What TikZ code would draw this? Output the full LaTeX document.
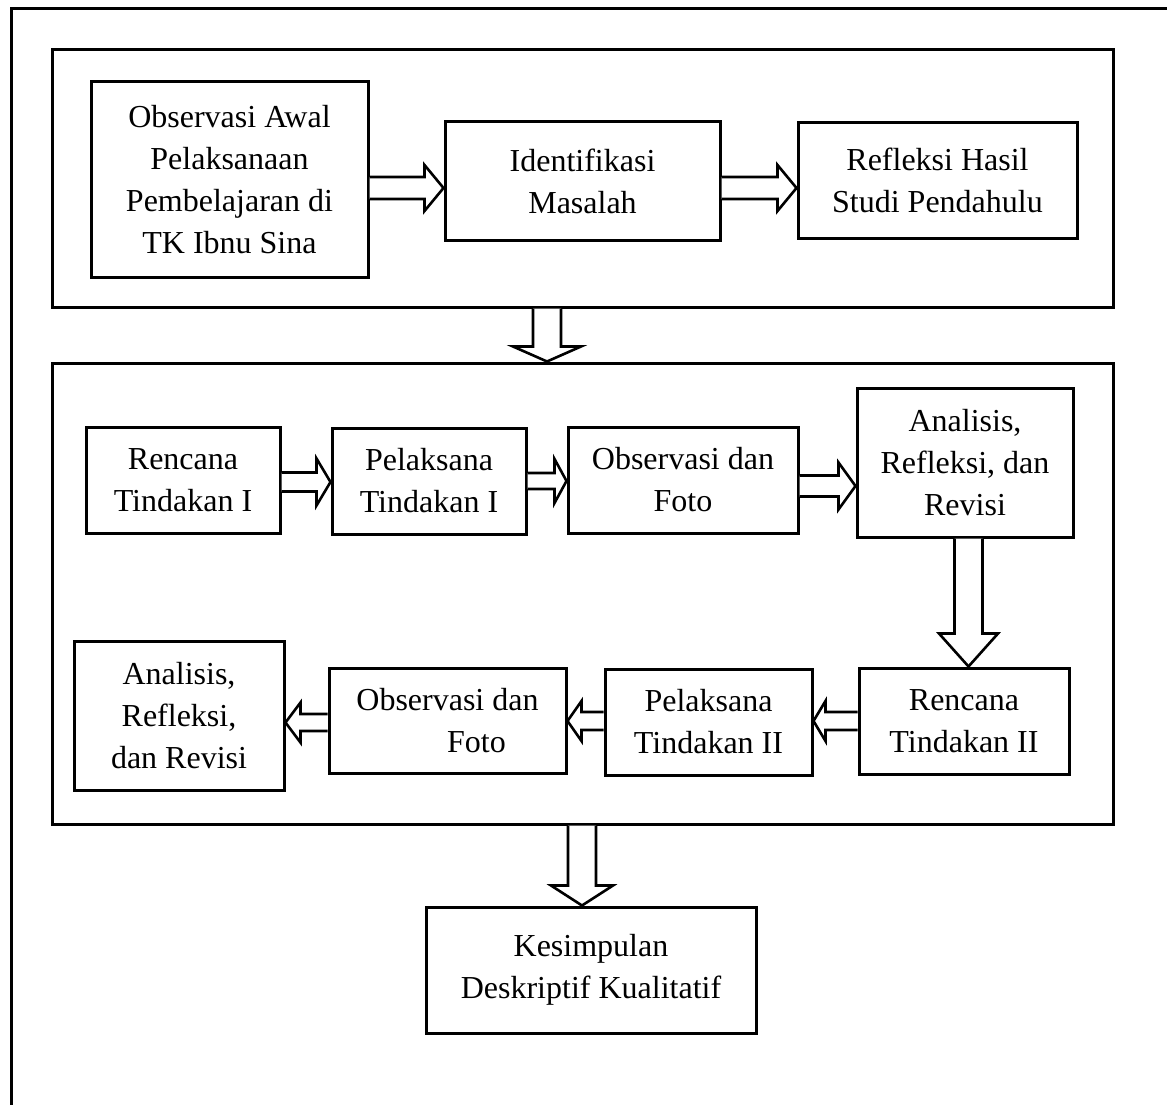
\documentclass[tikz,border=0pt]{standalone}
\usepackage{fontspec}
\setmainfont{Liberation Serif}
\usetikzlibrary{calc}
\tikzset{
  box/.style={draw, line width=3pt, align=center, inner sep=0pt,
    font=\fontsize{32}{42}\selectfont},
  frame/.style={draw, line width=3pt, inner sep=0pt},
  barrow/.style={draw, line width=2.6pt, line join=miter, fill=white}
}
% right-pointing block arrow: from, to, y, shaft half, head half, head length
\newcommand\arrR[6]{\draw[barrow] ($(#1.east|-0,#3)+(0,-#4)$) -- ($(#2.west|-0,#3)+(-#6,-#4)$) -- ($(#2.west|-0,#3)+(-#6,-#5)$) -- (#2.west|-0,#3) -- ($(#2.west|-0,#3)+(-#6,#5)$) -- ($(#2.west|-0,#3)+(-#6,#4)$) -- ($(#1.east|-0,#3)+(0,#4)$);}
\newcommand\arrL[6]{\draw[barrow] ($(#1.west|-0,#3)+(0,-#4)$) -- ($(#2.east|-0,#3)+(#6,-#4)$) -- ($(#2.east|-0,#3)+(#6,-#5)$) -- (#2.east|-0,#3) -- ($(#2.east|-0,#3)+(#6,#5)$) -- ($(#2.east|-0,#3)+(#6,#4)$) -- ($(#1.west|-0,#3)+(0,#4)$);}
\newcommand\arrD[6]{\draw[barrow] ($(#1.south-|#3,0)+(-#4,0)$) -- ($(#2.north-|#3,0)+(-#4,-#6)$) -- ($(#2.north-|#3,0)+(-#5,-#6)$) -- (#2.north-|#3,0) -- ($(#2.north-|#3,0)+(#5,-#6)$) -- ($(#2.north-|#3,0)+(#4,-#6)$) -- ($(#1.south-|#3,0)+(#4,0)$);}
\begin{document}
\begin{tikzpicture}[x=1pt,y=-1pt]
\useasboundingbox (0,0) rectangle (1167,1105);
% outer frame (open at right and bottom)
\draw[line width=3pt, line join=miter] (11,1105) -- (11,9) -- (1167,9);
% containers
\node[frame, minimum width=1061pt, minimum height=257pt] (top) at (582.5,178.5) {};
\node[frame, minimum width=1061pt, minimum height=461pt] (mid) at (582.5,593.5) {};
% top row
\node[box, minimum width=277pt, minimum height=195pt] (b1) at (229.5,179.5) {Observasi Awal\\Pelaksanaan\\Pembelajaran di\\TK Ibnu Sina};
\node[box, minimum width=275pt, minimum height=118pt] (b2) at (582.5,181) {Identifikasi\\Masalah};
\node[box, minimum width=279pt, minimum height=115pt] (b3) at (937.5,180.5) {Refleksi Hasil\\Studi Pendahulu};
% cycle I
\node[box, minimum width=194pt, minimum height=106pt] (r1) at (183,480) {Rencana\\Tindakan I};
\node[box, minimum width=194pt, minimum height=106pt] (p1) at (429,481) {Pelaksana\\Tindakan I};
\node[box, minimum width=230pt, minimum height=106pt] (o1) at (683,480) {Observasi dan\\Foto};
\node[box, minimum width=216pt, minimum height=149pt] (a1) at (965,462.5) {Analisis,\\Refleksi, dan\\Revisi};
% cycle II
\node[box, minimum width=210pt, minimum height=106pt] (r2) at (964,721) {Rencana\\Tindakan II};
\node[box, minimum width=207pt, minimum height=106pt] (p2) at (708.5,722) {Pelaksana\\Tindakan II};
\node[box, minimum width=237pt, minimum height=105pt] (o2) at (447.5,720.5) {Observasi dan\\\hspace*{58pt}Foto};
\node[box, minimum width=210pt, minimum height=149pt] (a2) at (179,715.5) {Analisis,\\Refleksi,\\dan Revisi};
% conclusion
\node[box, minimum width=330pt, minimum height=126pt] (k) at (591,970) {Kesimpulan\\Deskriptif Kualitatif};
% arrows
\arrR{b1}{b2}{188}{11}{23}{19}
\arrR{b2}{b3}{188}{11}{23}{19}
\arrD{top}{mid}{547}{14}{34}{15}
\arrR{r1}{p1}{482}{9.5}{23.5}{14}
\arrR{p1}{o1}{481}{8}{22}{12}
\arrR{o1}{a1}{486}{10.5}{23.5}{17}
\arrD{a1}{r2}{968.5}{14}{29.5}{33}
\arrL{r2}{p2}{721}{9}{20}{12}
\arrL{p2}{o2}{721}{9}{20}{14}
\arrL{o2}{a2}{722.5}{8.5}{20}{15}
\arrD{mid}{k}{582}{14}{31}{20}
\end{tikzpicture}
\end{document}
